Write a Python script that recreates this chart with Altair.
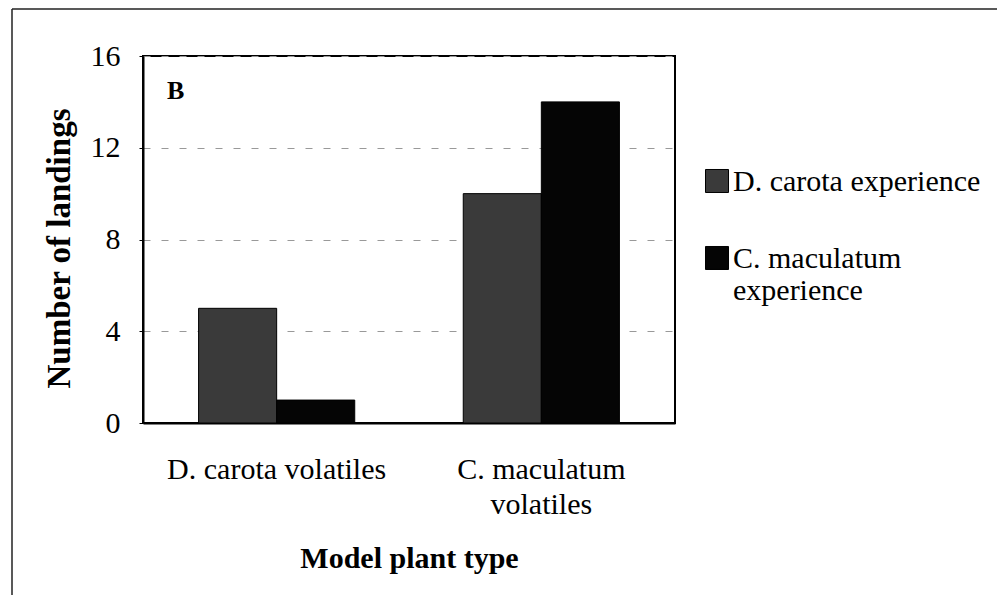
import altair as alt
import pandas as pd

plant_types = ["D. carota volatiles", "C. maculatum volatiles"]
experiences = ["D. carota experience", "C. maculatum experience"]
dcarota_experience = [5, 10]
cmaculatum_experience = [1, 14]
y_ticks = [0, 4, 8, 12, 16]
bar_colors = ["#3a3a3a", "#050505"]

rows = []
for i, p in enumerate(plant_types):
    rows.append({"plant": p, "experience": experiences[0], "landings": dcarota_experience[i]})
    rows.append({"plant": p, "experience": experiences[1], "landings": cmaculatum_experience[i]})
df = pd.DataFrame(rows)

FONT = "Liberation Serif"

bars = alt.Chart(df).mark_bar(stroke="#000000", strokeWidth=1).encode(
    x=alt.X(
        "plant:N",
        sort=plant_types,
        scale=alt.Scale(paddingInner=0.41, paddingOuter=0.21),
        axis=alt.Axis(
            title="Model plant type",
            labelAngle=0,
            ticks=False,
            labelPadding=31,
            labelBaseline="top",
            labelLineHeight=35,
            labelLimit=500,
            labelExpr="datum.label == 'C. maculatum volatiles' ? ['C. maculatum', 'volatiles'] : datum.label",
            titlePadding=24,
            grid=False,
        ),
    ),
    xOffset=alt.XOffset("experience:N", sort=experiences,
                        scale=alt.Scale(paddingInner=0, paddingOuter=0)),
    y=alt.Y(
        "landings:Q",
        scale=alt.Scale(domain=[0, 16], nice=False),
        axis=alt.Axis(
            title="Number of landings",
            values=y_ticks,
            tickSize=4,
            labelPadding=19,
            titlePadding=14,
            titleY=192,
            grid=True,
            gridColor="#999999",
            gridDash=[7, 11],
            gridWidth=1,
        ),
    ),
    color=alt.Color(
        "experience:N",
        sort=experiences,
        scale=alt.Scale(domain=experiences, range=bar_colors),
        legend=alt.Legend(
            title=None,
            orient="none",
            legendX=559,
            legendY=120,
            padding=0,
            symbolType="M-1,-1.87H1V0.13H-1Z",
            symbolSize=529,
            symbolStrokeColor="#000000",
            symbolStrokeWidth=1,
            symbolOpacity=1,
            labelBaseline="alphabetic",
            labelFont=FONT,
            labelFontSize=30,
            labelColor="#000000",
            labelOffset=1,
            labelLimit=400,
            rowPadding=47,
            labelExpr="datum.label == 'C. maculatum experience' ? ['C. maculatum', 'experience'] : datum.label",
        ),
    ),
)

panel_label = alt.Chart(alt.Data(values=[{}])).mark_text(
    text="B", font=FONT, fontSize=26, fontWeight="bold", color="#000000",
    align="left", baseline="alphabetic",
).encode(x=alt.value(24), y=alt.value(43))

frame_left = alt.Chart(alt.Data(values=[{}])).mark_rule(color="#222222", strokeWidth=1.5).encode(
    x=alt.value(-131), y=alt.value(-47), y2=alt.value(600)
)
frame_top = alt.Chart(alt.Data(values=[{}])).mark_rule(color="#222222", strokeWidth=1.5).encode(
    x=alt.value(-131), x2=alt.value(900), y=alt.value(-47)
)

chart = alt.layer(bars, panel_label, frame_left, frame_top).properties(
    width=532,
    height=367,
    padding={"left": 135, "top": 48, "right": 322, "bottom": 172},
    autosize=alt.AutoSizeParams(type="none"),
    background="white",
).configure_view(
    stroke="#000000", strokeWidth=2
).configure_axis(
    domainColor="#000000",
    domainWidth=2,
    tickColor="#000000",
    labelFont=FONT,
    labelFontSize=30,
    labelColor="#000000",
    titleFont=FONT,
    titleFontSize=33,
    titleFontWeight="bold",
    titleColor="#000000",
).configure_axisX(titleFontSize=30)

chart.save("out.html", embed_options={"renderer": "svg", "actions": False})
